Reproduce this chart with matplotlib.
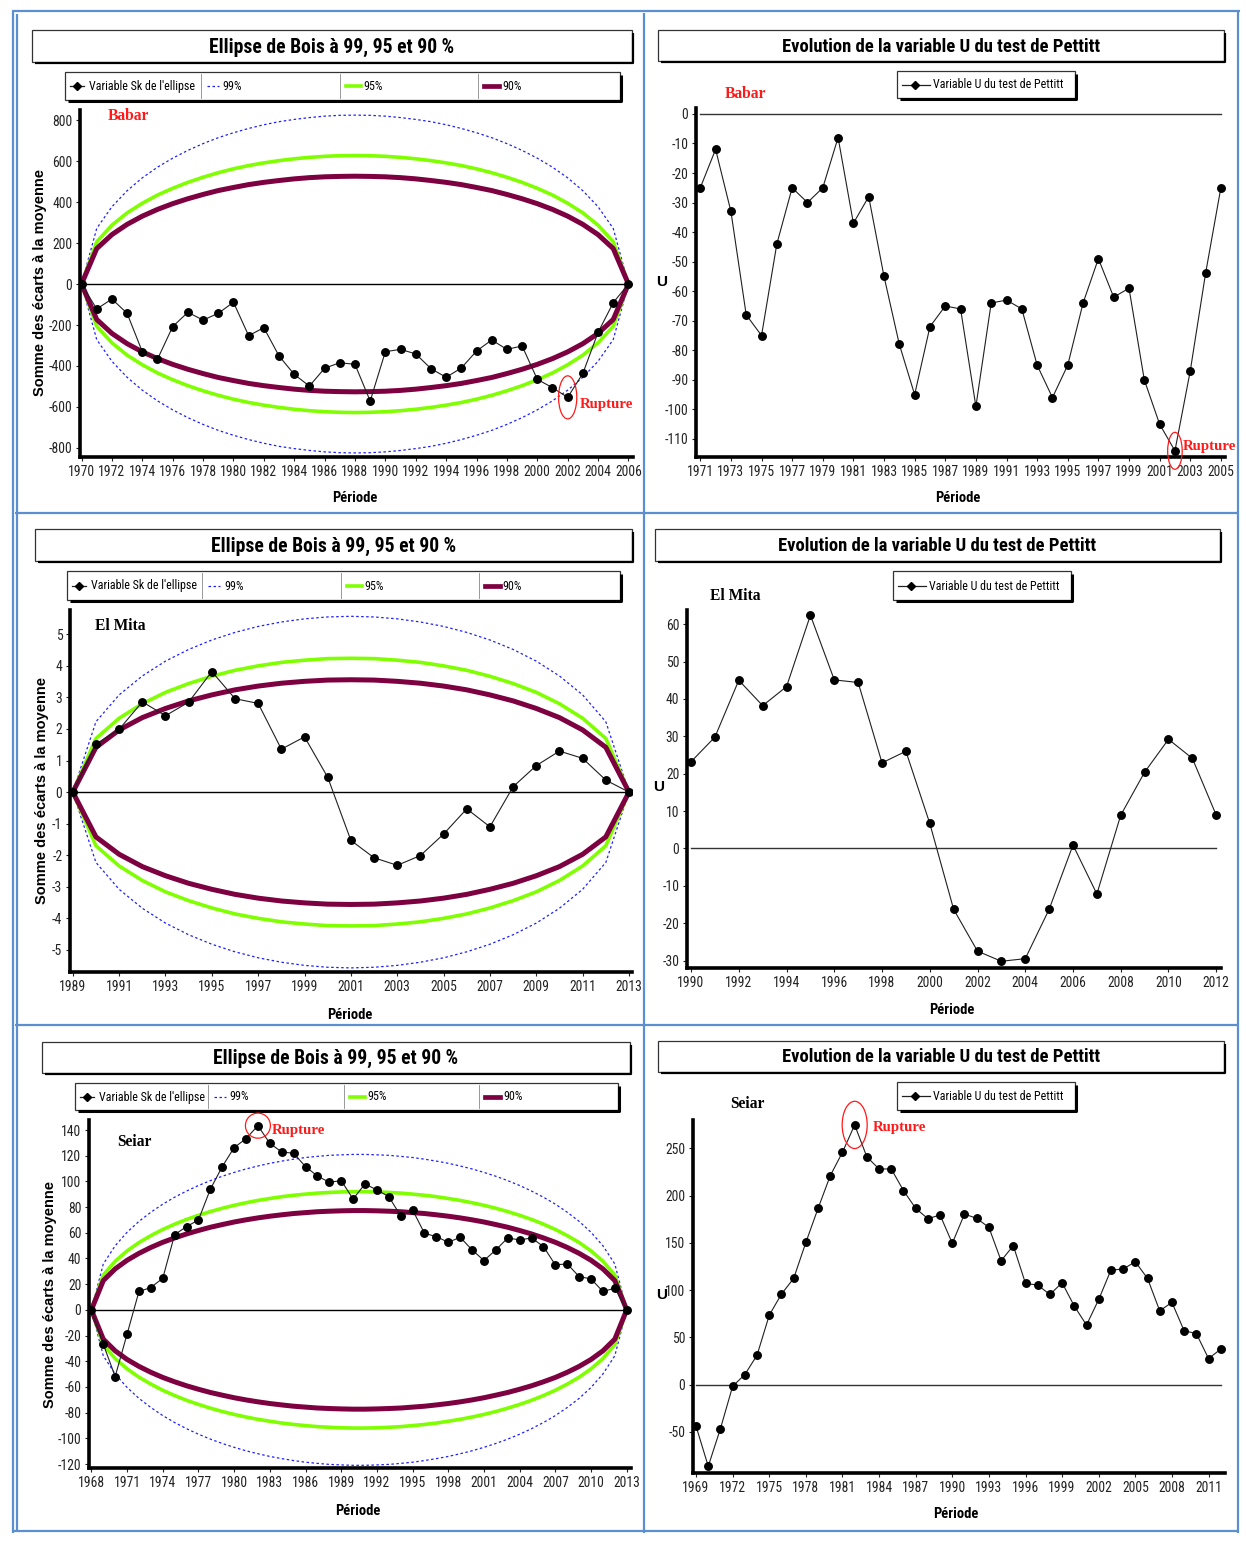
import os
import matplotlib
matplotlib.use("Agg")
import matplotlib.pyplot as plt
from matplotlib import font_manager as fm
from matplotlib.patches import Ellipse, Rectangle
from matplotlib.textpath import TextPath

# ---------------------------------------------------------------- data
babar_years = list(range(1970, 2007))
babar_sk = [0, -122, -73, -143, -330, -367, -208, -138, -176, -143, -89, -252, -213,
            -351, -441, -498, -411, -384, -392, -571, -330, -319, -341, -413, -455,
            -410, -327, -273, -319, -302, -465, -506, -553, -436, -236, -91, 0]
babar_99 = [0, 271, 377, 455, 518, 570, 614, 652, 685, 714, 738, 759, 777, 792, 803, 812,
            819, 823, 824, 823, 819, 812, 803, 792, 777, 759, 738, 714, 685, 652, 614,
            570, 518, 455, 377, 271, 0]
babar_95 = [0, 206, 287, 347, 394, 434, 467, 496, 521, 543, 562, 578, 591, 602, 611, 618,
            623, 626, 627, 626, 623, 618, 611, 602, 591, 578, 562, 543, 521, 496, 467,
            434, 394, 347, 287, 206, 0]
babar_90 = [0, 173, 241, 291, 331, 364, 392, 416, 437, 456, 471, 485, 496, 505, 513, 519,
            523, 525, 526, 525, 523, 519, 513, 505, 496, 485, 471, 456, 437, 416, 392,
            364, 331, 291, 241, 173, 0]
babar_u_years = list(range(1971, 2006))
babar_u = [-25, -12, -33, -68, -75, -44, -25, -30, -25, -8, -37, -28, -55, -78, -95, -72,
           -65, -66, -99, -64, -63, -66, -85, -96, -85, -64, -49, -62, -59, -90, -105,
           -114, -87, -54, -25]

elmita_years = list(range(1989, 2014))
elmita_sk = [0, 1.52, 1.99, 2.86, 2.42, 2.85, 3.82, 2.96, 2.81, 1.36, 1.75, 0.47, -1.53,
             -2.08, -2.32, -2.01, -1.33, -0.53, -1.10, 0.17, 0.84, 1.30, 1.07, 0.38, 0]
elmita_99 = [0, 2.23, 3.08, 3.68, 4.15, 4.52, 4.82, 5.06, 5.25, 5.39, 5.49, 5.55, 5.57,
             5.55, 5.49, 5.39, 5.25, 5.06, 4.82, 4.52, 4.15, 3.68, 3.08, 2.23, 0]
elmita_95 = [0, 1.70, 2.34, 2.80, 3.16, 3.44, 3.67, 3.86, 4.00, 4.11, 4.18, 4.23, 4.24,
             4.23, 4.18, 4.11, 4.00, 3.86, 3.67, 3.44, 3.16, 2.80, 2.34, 1.70, 0]
elmita_90 = [0, 1.42, 1.97, 2.36, 2.65, 2.89, 3.08, 3.24, 3.36, 3.45, 3.51, 3.55, 3.56,
             3.55, 3.51, 3.45, 3.36, 3.24, 3.08, 2.89, 2.65, 2.36, 1.97, 1.42, 0]
elmita_u_years = list(range(1990, 2013))
elmita_u = [23.2, 29.8, 45.0, 38.2, 43.3, 62.4, 45.1, 44.4, 22.9, 26.0, 6.7, -16.3, -27.5,
            -30.2, -29.5, -16.3, 0.9, -12.2, 8.9, 20.4, 29.2, 24.1, 8.9]

seiar_years = list(range(1968, 2014))
seiar_sk = [0, -26.7, -51.9, -18.9, 14.3, 17.4, 24.6, 58.6, 64.8, 70.0, 93.9, 111.5, 126.3,
            133.3, 143.4, 129.6, 122.9, 121.9, 111.5, 104.2, 99.3, 100.6, 86.3, 98.0, 93.3,
            88.2, 73.1, 77.8, 59.6, 57.0, 52.6, 56.5, 46.7, 38.4, 46.7, 56.0, 54.4, 56.0,
            49.3, 35.0, 35.8, 25.9, 24.1, 14.3, 16.9, 0]
seiar_99 = [0, 35.7, 49.9, 60.4, 68.9, 76.0, 82.3, 87.7, 92.5, 96.8, 100.6, 104.0, 107.0,
            109.7, 112.0, 114.1, 115.8, 117.3, 118.6, 119.5, 120.3, 120.7, 121.0, 121.0,
            120.7, 120.3, 119.5, 118.6, 117.3, 115.8, 114.1, 112.0, 109.7, 107.0, 104.0,
            100.6, 96.8, 92.5, 87.7, 82.3, 76.0, 68.9, 60.4, 49.9, 35.7, 0]
seiar_95 = [0, 27.1, 37.9, 45.9, 52.4, 57.8, 62.6, 66.7, 70.4, 73.6, 76.5, 79.1, 81.4, 83.4,
            85.2, 86.7, 88.1, 89.2, 90.1, 90.9, 91.4, 91.8, 92.0, 92.0, 91.8, 91.4, 90.9,
            90.1, 89.2, 88.1, 86.7, 85.2, 83.4, 81.4, 79.1, 76.5, 73.6, 70.4, 66.7, 62.6,
            57.8, 52.4, 45.9, 37.9, 27.1, 0]
seiar_90 = [0, 22.8, 31.9, 38.6, 44.0, 48.6, 52.6, 56.0, 59.1, 61.8, 64.3, 66.4, 68.4, 70.1,
            71.6, 72.9, 74.0, 75.0, 75.7, 76.4, 76.8, 77.1, 77.3, 77.3, 77.1, 76.8, 76.4,
            75.7, 75.0, 74.0, 72.9, 71.6, 70.1, 68.4, 66.4, 64.3, 61.8, 59.1, 56.0, 52.6,
            48.6, 44.0, 38.6, 31.9, 22.8, 0]
seiar_u_years = list(range(1969, 2013))
seiar_u = [-44.1, -86.5, -46.6, -1.8, 10.6, 31.1, 73.4, 95.7, 112.3, 150.4, 186.4, 221.0,
           245.8, 274.7, 240.8, 228.1, 228.1, 205.2, 186.4, 175.5, 179.4, 149.4, 180.4,
           175.8, 166.3, 131.0, 146.9, 107.0, 105.2, 95.3, 107.7, 83.0, 62.9, 90.0, 121.1,
           122.2, 129.9, 112.3, 78.0, 86.9, 56.9, 54.0, 27.5, 37.4]

ellipse_title = "Ellipse de Bois à 99, 95 et 90 %"
pettitt_title = "Evolution de la variable U du test de Pettitt"
ellipse_legend = ["Variable Sk de l'ellipse", "99%", "95%", "90%"]
pettitt_legend = "Variable U du test de Pettitt"
xlabel = "Période"
ylabel_sk = "Somme des écarts à la moyenne"

# ---------------------------------------------------------------- fonts
_WEIGHT_WORDS = ('semi', 'extrabold', 'light', 'medium', 'black', 'thin', 'italic',
                 'oblique', 'heavy')


def _condensed_file(bold):
    keys = ['liberationsansnarrow', 'arialnarrow', 'robotocondensed',
            'notosans-condensed', 'dejavusanscondensed', 'opensanscondensed',
            'opensans-condensed']
    files = sorted({f.fname for f in fm.fontManager.ttflist})
    for key in keys:
        for path in files:
            base = os.path.basename(path).lower().replace('_', '').replace(' ', '')
            if key not in base:
                continue
            rest = base.replace(key, '')
            if any(w in rest for w in _WEIGHT_WORDS):
                continue
            if bold == ('bold' in rest):
                return path
    return None


NARROW_REG = _condensed_file(False)
NARROW_BOLD = _condensed_file(True)


def narrow(size, bold=False):
    path = NARROW_BOLD if bold else NARROW_REG
    if path:
        return fm.FontProperties(fname=path, size=size)
    return fm.FontProperties(family=['Liberation Sans', 'DejaVu Sans'],
                             weight='bold' if bold else 'normal', size=size)


def sans_bold(size):
    return fm.FontProperties(family=['Liberation Sans', 'DejaVu Sans'], weight='bold',
                             size=size)


def serif_bold(size):
    return fm.FontProperties(family=['Liberation Serif', 'DejaVu Serif'], weight='bold',
                             size=size)


def fit(maker, text, px, *args):
    """Point size at which `text` spans about `px` pixels at 100 dpi."""
    fp = maker(100, *args)
    w = TextPath((0, 0), text, size=100, prop=fp).get_extents().width
    return px * 72.0 / w


TICK_PT = fit(narrow, "1970", 25)
ETITLE_PT = fit(narrow, ellipse_title, 243, True)
PTITLE_PT = fit(narrow, pettitt_title, 318, True)
LEG_PT = fit(narrow, pettitt_legend, 130)
XLAB_PT = fit(narrow, xlabel, 44, True)
YLAB_PT = 10.5
STATION_PT = fit(serif_bold, "El Mita", 50)
RUPT_PT = fit(serif_bold, "Rupture", 53)

# ---------------------------------------------------------------- style
W, H = 1246, 1567
GREEN = '#80ff00'
MAROON = '#7d0040'
BLUE = '#2020ff'
SERIES = '#202020'
FRAME = '#5b8fd0'
RED = '#ff1a1a'

fig = plt.figure(figsize=(W / 100, H / 100), dpi=100)

# full-figure overlay in pixel units for frames, boxes and labels
ov = fig.add_axes([0, 0, 1, 1], zorder=0)
ov.set_xlim(0, W)
ov.set_ylim(H, 0)
ov.axis('off')


def px_axes(l, t, r, b):
    ax = fig.add_axes([l / W, 1 - b / H, (r - l) / W, (b - t) / H], zorder=2)
    ax.patch.set_alpha(0)
    return ax


def fmt(v):
    return str(v)


def style(ax, xlim, ylim, xticks, yticks):
    ax.set_xlim(*xlim)
    ax.set_ylim(*ylim)
    for s in ('top', 'right'):
        ax.spines[s].set_visible(False)
    for s in ('left', 'bottom'):
        ax.spines[s].set_linewidth(2.6)
    tfp = narrow(TICK_PT)
    ax.set_xticks(xticks, labels=[fmt(v) for v in xticks], fontproperties=tfp,
                  color='#111111')
    ax.set_yticks(yticks, labels=[fmt(v) for v in yticks], fontproperties=tfp,
                  color='#111111')
    ax.tick_params(axis='both', direction='out', length=3, width=0.8, pad=2.5,
                   colors='#222222')


def box(l, t, r, b, shadow=2.2):
    ov.add_patch(Rectangle((l, t), r - l, b - t, facecolor='white',
                           edgecolor='#333333', lw=0.9))
    ov.plot([l + 3, r + 1.2, r + 1.2], [b + 1.2, b + 1.2, t + 3], color='black',
            lw=shadow, solid_capstyle='butt')


def title_box(l, t, r, b, text, size):
    box(l, t, r, b, shadow=1.6)
    ov.text((l + r) / 2, (t + b) / 2 + 1, text, ha='center', va='center',
            fontproperties=narrow(size, True))


def ellipse_legend_box(l, t, r, b):
    box(l, t, r, b)
    yc = (t + b) / 2
    step = (r - l) / 4
    for i in range(1, 4):
        ov.plot([l + i * step - 3] * 2, [t + 2, b - 2], color='#888888', lw=0.6)
    ov.plot([l + 5, l + 19], [yc, yc], color=SERIES, lw=0.9)
    ov.plot([l + 12], [yc], marker='D', ms=4.5, color='black')
    ov.plot([l + step + 3, l + step + 15], [yc, yc], color=BLUE, lw=0.9, ls=(0, (2, 2)))
    ov.plot([l + 2 * step + 3, l + 2 * step + 18], [yc, yc], color=GREEN, lw=2.6)
    ov.plot([l + 3 * step + 3, l + 3 * step + 18], [yc, yc], color=MAROON, lw=3.4)
    xs = [l + 24, l + step + 19, l + 2 * step + 21, l + 3 * step + 21]
    for x, s in zip(xs, ellipse_legend):
        ov.text(x, yc + 0.5, s, ha='left', va='center', fontproperties=narrow(LEG_PT))


def pettitt_legend_box(l, t, r, b):
    box(l, t, r, b)
    yc = (t + b) / 2
    ov.plot([l + 5, l + 33], [yc, yc], color=SERIES, lw=0.9)
    ov.plot([l + 18], [yc], marker='D', ms=4.5, color='black')
    ov.text(l + 36, yc + 0.5, pettitt_legend, ha='left', va='center',
            fontproperties=narrow(LEG_PT))


def station(x, y, name, color):
    ov.text(x, y, name, ha='left', va='center', fontproperties=serif_bold(STATION_PT),
            color=color)


def axis_labels(xl, yl, ylab, kind):
    ov.text(xl[0], xl[1], xlabel, ha='center', va='center',
            fontproperties=narrow(XLAB_PT, True))
    if kind == 'sk':
        ov.text(yl[0], yl[1], ylab, ha='center', va='center', rotation=90,
                fontproperties=sans_bold(YLAB_PT))
    else:
        ov.text(yl[0], yl[1], ylab, ha='center', va='center',
                fontproperties=sans_bold(11))


def rupture(ax, x, y, w, h, tx, ty):
    ax.add_patch(Ellipse((x, y), w, h, fill=False, edgecolor=RED, lw=0.9, clip_on=False,
                         zorder=6))
    ax.text(tx, ty, "Rupture", ha='left', va='center', fontproperties=serif_bold(RUPT_PT),
            color=RED, clip_on=False, zorder=6)


def ellipse_panel(rect, years, sk, e99, e95, e90, xlim, ylim, xticks, yticks):
    ax = px_axes(*rect)
    ax.plot(years, e99, color=BLUE, lw=0.9, ls=(0, (2, 2)))
    ax.plot(years, [-v for v in e99], color=BLUE, lw=0.9, ls=(0, (2, 2)))
    ax.plot(years, e95, color=GREEN, lw=2.6)
    ax.plot(years, [-v for v in e95], color=GREEN, lw=2.6)
    ax.plot(years, e90, color=MAROON, lw=3.6)
    ax.plot(years, [-v for v in e90], color=MAROON, lw=3.6)
    ax.axhline(0, color='black', lw=1.0, zorder=1)
    ax.plot(years, sk, color=SERIES, lw=0.8, marker='o', ms=5.4, mfc='black',
            mec='black', zorder=5)
    style(ax, xlim, ylim, xticks, yticks)
    return ax


def pettitt_panel(rect, years, u, xlim, ylim, xticks, yticks):
    ax = px_axes(*rect)
    ax.plot([years[0], years[-1]], [0, 0], color='#333333', lw=1.0)
    ax.plot(years, u, color=SERIES, lw=0.8, marker='o', ms=5.4, mfc='black',
            mec='black', zorder=5)
    style(ax, xlim, ylim, xticks, yticks)
    return ax


# ---------------------------------------------------------------- cell frames
for xs, ys in [([12, 1240], [11, 11]), ([13, 13], [11, 1533]), ([17, 17], [14, 1531]),
               ([644, 644], [13, 1533]), ([1238, 1238], [11, 1533]),
               ([15, 1238], [513, 513]), ([15, 1238], [1025, 1025]),
               ([13, 1238], [1531, 1531])]:
    ov.plot(xs, ys, color=FRAME, lw=1.6, solid_capstyle='butt')

# ---------------------------------------------------------------- Babar
ax1 = ellipse_panel((80, 110, 633, 457), babar_years, babar_sk, babar_99, babar_95,
                    babar_90, (1969.9, 2006.3), (-844, 849),
                    list(range(1970, 2007, 2)), list(range(-800, 801, 200)))
i = babar_years.index(2002)
rupture(ax1, 2002, babar_sk[i], 1.2, 210, 2002.8, babar_sk[i] - 35)
title_box(32, 30, 632, 62, ellipse_title, ETITLE_PT)
ellipse_legend_box(65, 72, 620, 100)
station(108, 116, "Babar", RED)
axis_labels((355, 498), (40, 283), ylabel_sk, 'sk')

ax2 = pettitt_panel((696, 108, 1225, 457), babar_u_years, babar_u,
                    (1970.72, 2005.27), (-116.1, 2.0),
                    list(range(1971, 2006, 2)), list(range(-110, 1, 10)))
i = babar_u_years.index(2002)
rupture(ax2, 2002, babar_u[i], 0.95, 12.5, 2002.5, babar_u[i] + 1.5)
title_box(658, 30, 1224, 61, pettitt_title, PTITLE_PT)
pettitt_legend_box(897, 71, 1075, 98)
station(725, 94, "Babar", RED)
axis_labels((958, 498), (662, 282), "U", 'u')

# ---------------------------------------------------------------- El Mita
ax3 = ellipse_panel((70, 610, 632, 972), elmita_years, elmita_sk, elmita_99, elmita_95,
                    elmita_90, (1988.88, 2013.13), (-5.70, 5.77),
                    list(range(1989, 2014, 2)), list(range(-5, 6)))
title_box(35, 529, 632, 561, ellipse_title, ETITLE_PT)
ellipse_legend_box(67, 571, 620, 600)
station(95, 626, "El Mita", 'black')
axis_labels((350, 1015), (42, 790), ylabel_sk, 'sk')

ax4 = pettitt_panel((687, 610, 1221, 968), elmita_u_years, elmita_u,
                    (1989.83, 2012.2), (-32.0, 63.8),
                    list(range(1990, 2013, 2)), list(range(-30, 61, 10)))
title_box(655, 529, 1220, 561, pettitt_title, PTITLE_PT)
pettitt_legend_box(893, 571, 1071, 600)
station(710, 596, "El Mita", 'black')
axis_labels((952, 1010), (659, 787), "U", 'u')

# ---------------------------------------------------------------- Seiar
ax5 = ellipse_panel((89, 1120, 631, 1468), seiar_years, seiar_sk, seiar_99, seiar_95,
                    seiar_90, (1967.8, 2013.36), (-123.1, 147.8),
                    list(range(1968, 2014, 3)), list(range(-120, 141, 20)))
i = seiar_years.index(1982)
rupture(ax5, 1982, seiar_sk[i], 2.1, 19.5, 1983.2, seiar_sk[i] - 4)
title_box(42, 1042, 630, 1073, ellipse_title, ETITLE_PT)
ellipse_legend_box(75, 1083, 618, 1110)
station(117, 1142, "Seiar", 'black')
axis_labels((358, 1511), (50, 1295), ylabel_sk, 'sk')

ax6 = pettitt_panel((693, 1120, 1225, 1473), seiar_u_years, seiar_u,
                    (1968.75, 2012.35), (-93.6, 279.9),
                    list(range(1969, 2012, 3)), list(range(-50, 251, 50)))
i = seiar_u_years.index(1982)
rupture(ax6, 1982, seiar_u[i], 2.05, 50, 1983.5, seiar_u[i] - 3)
title_box(658, 1041, 1224, 1072, pettitt_title, PTITLE_PT)
pettitt_legend_box(897, 1082, 1075, 1110)
station(730, 1104, "Seiar", 'black')
axis_labels((956, 1514), (662, 1295), "U", 'u')

fig.savefig("out.png", dpi=100)
